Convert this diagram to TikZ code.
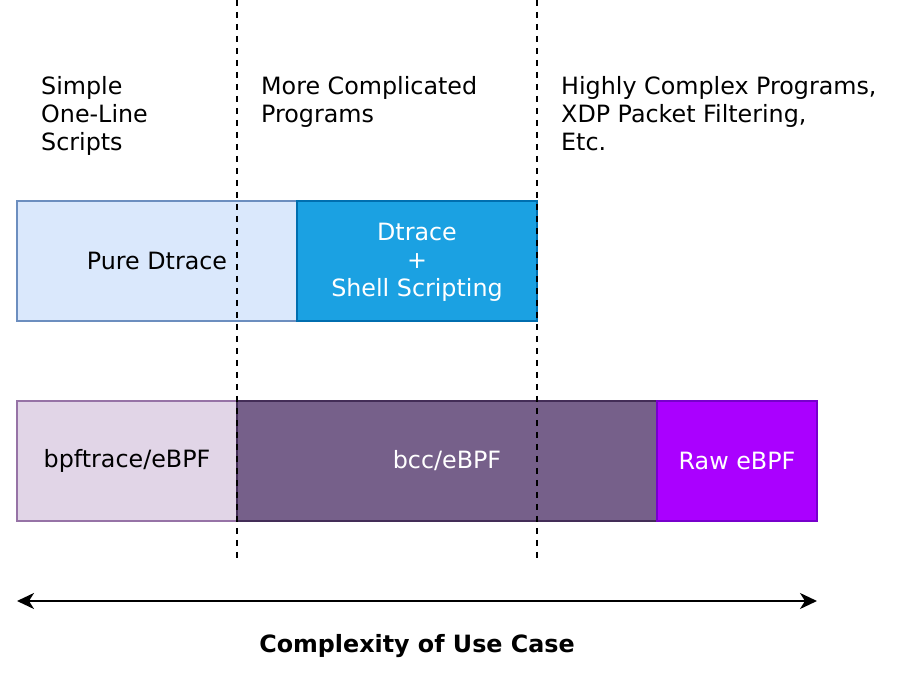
\documentclass[tikz,border=0pt]{standalone}
\usepackage{fontspec}
\setmainfont{DejaVu Sans}
\usetikzlibrary{arrows.meta}

\definecolor{dtfill}{HTML}{DAE8FC}
\definecolor{dtline}{HTML}{6C8EBF}
\definecolor{shfill}{HTML}{1BA1E2}
\definecolor{shline}{HTML}{006EAF}
\definecolor{btfill}{HTML}{E1D5E7}
\definecolor{btline}{HTML}{9673A6}
\definecolor{bccfill}{HTML}{76608A}
\definecolor{bccline}{HTML}{432D57}
\definecolor{rawfill}{HTML}{AA00FF}
\definecolor{rawline}{HTML}{7700CC}

\tikzset{
  bar/.style={draw,line width=2pt,minimum height=120pt,inner sep=0pt,align=center},
  note/.style={anchor=north west,inner sep=0pt,align=left},
  guide/.style={line width=2pt,dash pattern=on 6pt off 6pt}
}

\begin{document}
\begin{tikzpicture}[x=1pt,y=-1pt,font=\fontsize{23.8}{28}\selectfont]
\useasboundingbox (0,0) rectangle (898,676);
\node (simple) at (41,76) [note] {Simple\\One-Line\\Scripts};
\node (more) at (261,76) [note] {More Complicated\\Programs};
\node (complex) at (561,76) [note] {Highly Complex Programs,\\XDP Packet Filtering,\\Etc.};
\node (puredt) at (157,261) [bar,fill=dtfill,draw=dtline,minimum width=280pt] {Pure Dtrace};
\node (shell) at (417,261) [bar,fill=shfill,draw=shline,text=white,minimum width=240pt] {\rule{0pt}{20pt}Dtrace\\+\\Shell Scripting};
\node (bpft) at (127,461) [bar,fill=btfill,draw=btline,minimum width=220pt] {bpftrace/eBPF};
\node (bcc) at (447,461) [bar,fill=bccfill,draw=bccline,text=white,minimum width=420pt] {bcc/eBPF};
\node (raw) at (737,461) [bar,fill=rawfill,draw=rawline,text=white,minimum width=160pt] {Raw eBPF};
\coordinate (g1top) at (237,0);
\coordinate (g1bot) at (237,561);
\coordinate (g2top) at (537,0);
\coordinate (g2bot) at (537,561);
\draw[guide] (g1top) -- (g1bot);
\draw[guide] (g2top) -- (g2bot);
\coordinate (low) at (17,601);
\coordinate (high) at (817,601);
\draw[line width=2pt,{Stealth[length=17pt,width=16pt,inset=5pt]}-{Stealth[length=17pt,width=16pt,inset=5pt]}] (low) -- (high);
\node (axis) at (417,646) {\bfseries Complexity of Use Case};
\end{tikzpicture}
\end{document}
